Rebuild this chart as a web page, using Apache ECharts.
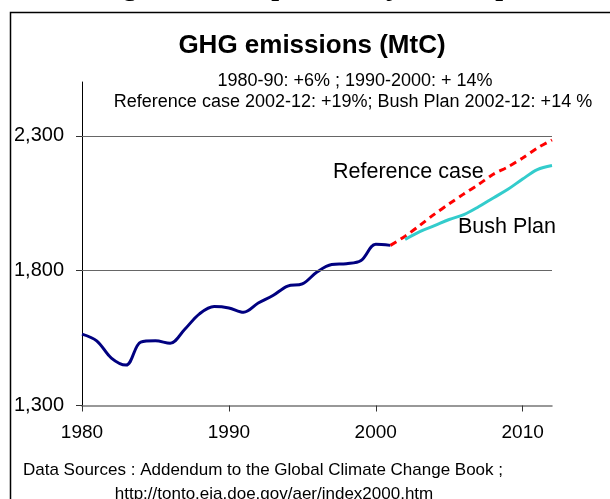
<!DOCTYPE html>
<html>
<head>
<meta charset="utf-8">
<title>GHG emissions (MtC)</title>
<script src="https://cdn.jsdelivr.net/npm/echarts@6/dist/echarts.min.js"></script>
<style>
  html, body { margin: 0; padding: 0; background: #fff; }
  #chart { width: 610px; height: 499px; }
</style>
</head>
<body>
<div id="chart"></div>
<script>
// historical emissions, 1980-2001
const histYears = [1980, 1981, 1982, 1983, 1984, 1985, 1986, 1987, 1988, 1989, 1990,
  1991, 1992, 1993, 1994, 1995, 1996, 1997, 1998, 1999, 2000, 2001]
const histValues = [1565, 1540, 1476, 1450, 1535, 1540, 1531, 1583, 1640, 1667, 1662,
  1646, 1680, 1708, 1743, 1751, 1795, 1823, 1826, 1838, 1898, 1894]

// projections
const refYears = [2001, 2002, 2003, 2004, 2005, 2006, 2007, 2008, 2009, 2010, 2011, 2012]
const refValues = [1894, 1928, 1968, 2010, 2048, 2085, 2120, 2158, 2185, 2218, 2255, 2285]
const bushYears = [2002, 2003, 2004, 2005, 2006, 2007, 2008, 2009, 2010, 2011, 2012]
const bushValues = [1916, 1945, 1967, 1990, 2008, 2037, 2070, 2102, 2140, 2175, 2190]

// ticks
const xTicks = [1980, 1990, 2000, 2010]
const yTicks = [1300, 1800, 2300]
const gridValues = [1800, 2300]

const font = "'Liberation Sans', Arial, sans-serif"
const serif = "italic 34px 'Liberation Serif', serif"
const zip = (xs, ys) => xs.map((x, i) => [x, ys[i]])

const chart = echarts.init(document.getElementById('chart'))

chart.setOption({
  animation: false,
  backgroundColor: '#fff',
  grid: { left: 82, right: 58, top: 82, bottom: 93.5 },
  xAxis: {
    type: 'value',
    min: 1980,
    max: 2012,
    axisLine: { onZero: false, lineStyle: { color: '#777', width: 1.5 } },
    axisTick: { customValues: xTicks, length: 6, lineStyle: { color: '#333' } },
    axisLabel: {
      customValues: xTicks,
      margin: 18,
      color: '#000',
      fontFamily: font,
      fontSize: 19,
      formatter: v => String(v)
    },
    splitLine: { show: false }
  },
  yAxis: {
    type: 'value',
    min: 1300,
    max: 2500,
    axisLine: { show: true, onZero: false, lineStyle: { color: '#000', width: 1 } },
    axisTick: { show: true, customValues: yTicks, length: 6, lineStyle: { color: '#333' } },
    axisLabel: {
      customValues: yTicks,
      margin: 18,
      color: '#000',
      fontFamily: font,
      fontSize: 20,
      formatter: v => v.toLocaleString('en-US')
    },
    splitLine: { show: false }
  },
  series: [
    {
      // gridlines only
      type: 'line',
      data: [],
      z: 1,
      markLine: {
        silent: true,
        symbol: 'none',
        label: { show: false },
        lineStyle: { color: '#666', type: 'solid', width: 1 },
        data: gridValues.map(v => ({ yAxis: v }))
      }
    },
    {
      name: 'Historical',
      type: 'line',
      data: zip(histYears, histValues),
      smooth: 0.35,
      showSymbol: false,
      lineStyle: { color: '#000080', width: 3 },
      z: 3
    },
    {
      name: 'Reference case',
      type: 'line',
      data: zip(refYears, refValues),
      smooth: 0.3,
      showSymbol: false,
      lineStyle: { color: '#ff0000', width: 3, type: [7, 5] },
      z: 3
    },
    {
      name: 'Bush Plan',
      type: 'line',
      data: zip(bushYears, bushValues),
      smooth: 0.35,
      showSymbol: false,
      lineStyle: { color: '#33cccc', width: 3 },
      z: 3
    }
  ],
  graphic: [
    // frame of the slide box
    {
      type: 'rect',
      shape: { x: 10.5, y: 12.5, width: 700, height: 600 },
      style: { fill: null, stroke: '#000', lineWidth: 1.5 },
      silent: true
    },
    // descenders of the cut-off heading above the box
    { type: 'text', x: 133, y: -15, style: { text: 'g', font: serif, fill: '#000', align: 'center', verticalAlign: 'middle' } },
    { type: 'text', x: 282, y: -15, style: { text: 'p', font: serif, fill: '#000', align: 'center', verticalAlign: 'middle' } },
    { type: 'text', x: 395, y: -15, style: { text: 'j', font: serif, fill: '#000', align: 'center', verticalAlign: 'middle' } },
    { type: 'text', x: 506, y: -15, style: { text: 'p', font: serif, fill: '#000', align: 'center', verticalAlign: 'middle' } },
    {
      type: 'text', x: 312, y: 46,
      style: { text: 'GHG emissions (MtC)', font: 'bold 26px ' + font, fill: '#000', align: 'center', verticalAlign: 'middle' }
    },
    {
      type: 'text', x: 355, y: 81.5,
      style: { text: '1980-90: +6% ; 1990-2000: + 14%', font: '18px ' + font, fill: '#000', align: 'center', verticalAlign: 'middle' }
    },
    {
      type: 'text', x: 353, y: 102,
      style: { text: 'Reference case 2002-12: +19%; Bush Plan 2002-12: +14 %', font: '18px ' + font, fill: '#000', align: 'center', verticalAlign: 'middle' }
    },
    {
      type: 'text', x: 333, y: 172.5,
      style: { text: 'Reference case', font: '21.5px ' + font, fill: '#000', align: 'left', verticalAlign: 'middle' }
    },
    {
      type: 'text', x: 458, y: 227.5,
      style: { text: 'Bush Plan', font: '21.5px ' + font, fill: '#000', align: 'left', verticalAlign: 'middle' }
    },
    {
      type: 'text', x: 263, y: 470,
      style: { text: 'Data Sources : Addendum to the Global Climate Change Book ;', font: '17px ' + font, fill: '#000', align: 'center', verticalAlign: 'middle' }
    },
    {
      type: 'text', x: 274, y: 494,
      style: { text: 'http://tonto.eia.doe.gov/aer/index2000.htm', font: '17px ' + font, fill: '#000', align: 'center', verticalAlign: 'middle' }
    }
  ]
})
</script>
</body>
</html>
